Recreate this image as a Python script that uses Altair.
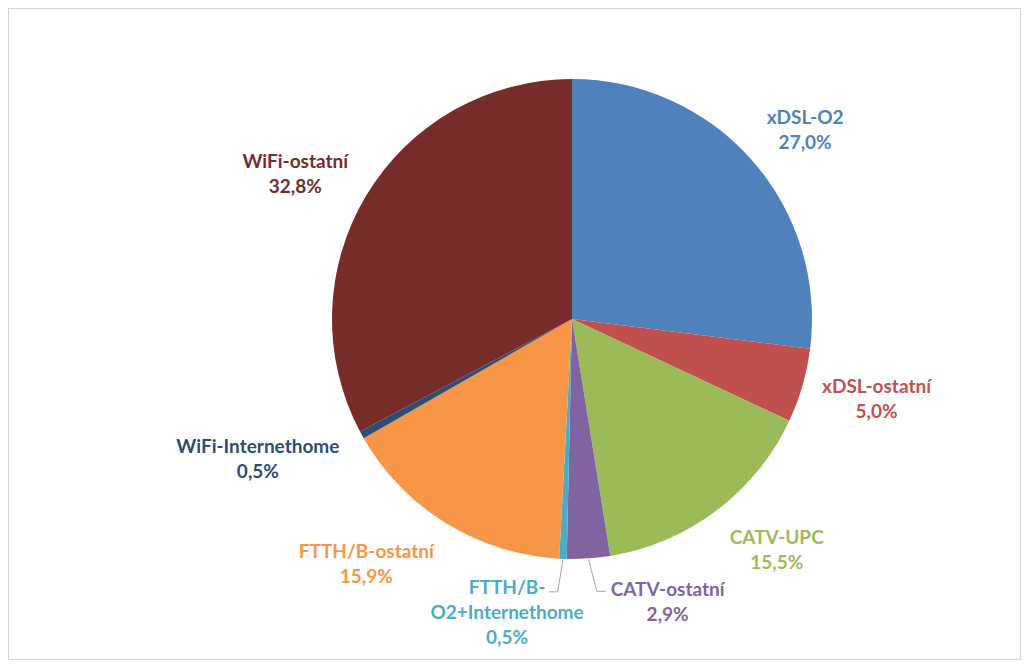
import altair as alt
import pandas as pd

# ---- data ----
categories = ["xDSL-O2", "xDSL-ostatní", "CATV-UPC", "CATV-ostatní",
              "FTTH/B-O2+Internethome", "FTTH/B-ostatní",
              "WiFi-Internethome", "WiFi-ostatní"]
values = [27.0, 5.0, 15.5, 2.9, 0.5, 15.9, 0.5, 32.8]
display_names = ["xDSL-O2", "xDSL-ostatní", "CATV-UPC", "CATV-ostatní",
                 "FTTH/B-\nO2+Internethome", "FTTH/B-ostatní",
                 "WiFi-Internethome", "WiFi-ostatní"]
colors = ["#4F81BD", "#C0504D", "#9BBB59", "#8064A2",
          "#4BACC6", "#F79646", "#2C4D75", "#772C2A"]
has_leader = [0, 0, 0, 1, 1, 0, 0, 0]

# ---- layout (label placement relative to slice middle) ----
CX, CY, R = 564, 311, 240
LH = 25
label_nudge_deg = [2.45, -1.3, -4.45, -14.7, 10.3, 8.35, 4.8, -3.5]
label_radius = [300, 315, 309, 299, 301, 320, 344, 312]

labels = [f"{n}\n{v:.1f}".replace(".", ",") + "%" for n, v in zip(display_names, values)]

df = pd.DataFrame({
    "category": categories,
    "value": values,
    "order": list(range(len(categories))),
    "label": labels,
    "nudge": label_nudge_deg,
    "lr": label_radius,
    "leader": has_leader,
})

color_scale = alt.Scale(domain=categories, range=colors)

base = alt.Chart(df)

pie = base.mark_arc(radius=R, strokeWidth=0).encode(
    theta=alt.Theta("value:Q", stack=True),
    color=alt.Color("category:N", scale=color_scale, legend=None),
    order=alt.Order("order:Q"),
    x=alt.value(CX),
    y=alt.value(CY),
)

geo = base.transform_window(
    cum="sum(value)", sort=[alt.SortField("order")], frame=[None, 0]
).transform_joinaggregate(
    total="sum(value)"
).transform_calculate(
    mid="(datum.cum - datum.value / 2) / datum.total * 2 * PI",
    nlines="length(split(datum.label, '\\n'))",
).transform_calculate(
    a="datum.mid + datum.nudge * PI / 180",
    ex=f"{CX} + {R + 1} * sin(datum.mid)",
    ey=f"{CY} - {R + 1} * cos(datum.mid)",
    bx=f"{CX} + 273 * sin(datum.mid) + (sin(datum.mid) < 0 ? -4 : 6)",
    by=f"{CY} - 273 * cos(datum.mid)",
).transform_calculate(
    lx=f"{CX} + datum.lr * sin(datum.a)",
    ly=f"{CY} - datum.lr * cos(datum.a) - (datum.nlines - 1) * {LH} / 2",
    hx="datum.bx + (sin(datum.mid) < 0 ? -9 : 9)",
)

text = geo.mark_text(
    font="Lato", fontWeight="bold", fontSize=19, lineBreak="\n",
    lineHeight=LH, align="center", baseline="middle",
).encode(
    x=alt.X("lx:Q", scale=None),
    y=alt.Y("ly:Q", scale=None),
    text="label:N",
    color=alt.Color("category:N", scale=color_scale, legend=None),
)

leader1 = geo.transform_filter("datum.leader == 1").mark_rule(
    color="#A6A6A6", strokeWidth=1
).encode(
    x=alt.X("ex:Q", scale=None), y=alt.Y("ey:Q", scale=None),
    x2="bx:Q", y2="by:Q",
)
leader2 = geo.transform_filter("datum.leader == 1").mark_rule(
    color="#A6A6A6", strokeWidth=1
).encode(
    x=alt.X("bx:Q", scale=None), y=alt.Y("by:Q", scale=None),
    x2="hx:Q", y2="by:Q",
)

chart = alt.layer(pie, leader1, leader2, text).properties(
    width=1013, height=652,
    autosize=alt.AutoSizeParams(type="fit", contains="padding"),
    padding=0,
    background="white",
).configure_view(
    stroke="#D4D4D4", strokeWidth=2,
)

chart.save("out.html", embed_options={"renderer": "svg", "actions": False})
